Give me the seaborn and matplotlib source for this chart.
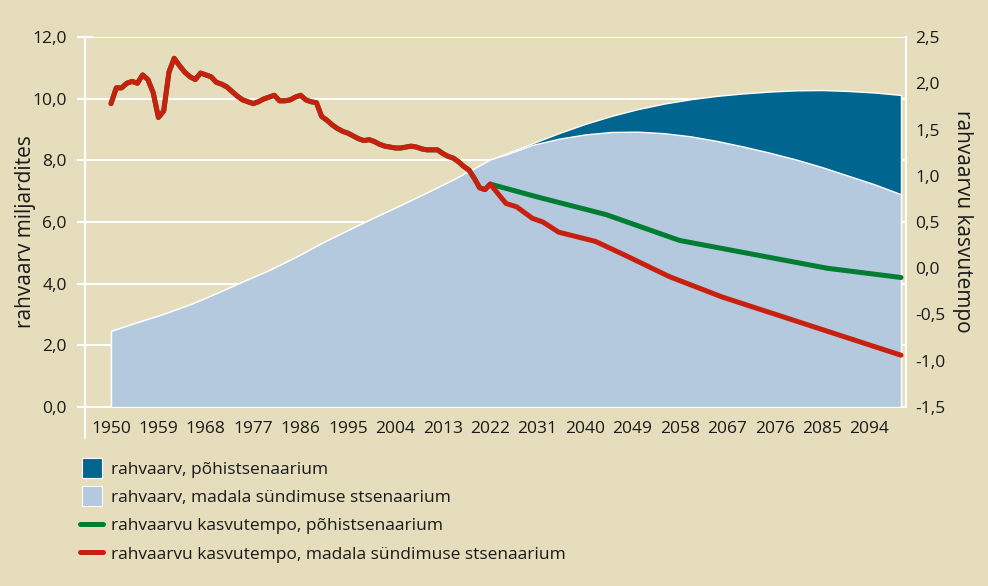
import matplotlib
matplotlib.use("Agg")
import matplotlib.pyplot as plt
import seaborn as sns
import numpy as np
import pandas as pd
from matplotlib.lines import Line2D

# ---------------- data ----------------
hist_years = list(range(1950, 2023))
growth_hist = [1.78, 1.95, 1.95, 2.00, 2.02, 2.00, 2.09, 2.04, 1.90, 1.63,
               1.70, 2.12, 2.27, 2.19, 2.12, 2.07, 2.04, 2.11, 2.09, 2.07,
               2.01, 1.99, 1.96, 1.91, 1.86, 1.82, 1.80, 1.78, 1.80, 1.83,
               1.85, 1.87, 1.81, 1.81, 1.82, 1.85, 1.87, 1.82, 1.80, 1.79,
               1.64, 1.60, 1.55, 1.51, 1.48, 1.46, 1.43, 1.40, 1.38, 1.39,
               1.37, 1.34, 1.32, 1.31, 1.30, 1.30, 1.31, 1.32, 1.31, 1.29,
               1.28, 1.28, 1.28, 1.24, 1.21, 1.19, 1.15, 1.10, 1.06, 0.97,
               0.87, 0.85, 0.91]

base_growth_years = [2022, 2031, 2044, 2058, 2086, 2100]
base_growth = [0.91, 0.77, 0.58, 0.30, 0.00, -0.10]

low_growth_years = [2022, 2025, 2027, 2030, 2032, 2035, 2042, 2048, 2056, 2066, 2100]
low_growth = [0.91, 0.70, 0.665, 0.54, 0.50, 0.39, 0.29, 0.13, -0.09, -0.31, -0.94]

pop_hist_years = [1950, 1955, 1960, 1965, 1970, 1975, 1980, 1985, 1990, 1995,
                  2000, 2005, 2010, 2015, 2020, 2022]
pop_hist = [2.47, 2.75, 3.02, 3.33, 3.69, 4.07, 4.44, 4.86, 5.32, 5.74,
            6.15, 6.55, 6.96, 7.38, 7.84, 8.03]

proj_years = [2025, 2030, 2035, 2040, 2045, 2050, 2055, 2060, 2065, 2070,
              2075, 2080, 2085, 2090, 2095, 2100]
pop_base = [8.22, 8.55, 8.88, 9.18, 9.44, 9.66, 9.84, 9.98, 10.09, 10.17,
            10.23, 10.27, 10.28, 10.25, 10.20, 10.12]
pop_low = [8.19, 8.50, 8.70, 8.84, 8.92, 8.93, 8.88, 8.78, 8.63, 8.45,
           8.25, 8.03, 7.78, 7.50, 7.22, 6.90]

xtick_years = list(range(1950, 2095, 9))
left_ticks = [0, 2, 4, 6, 8, 10, 12]
right_ticks = [-1.5, -1.0, -0.5, 0.0, 0.5, 1.0, 1.5, 2.0, 2.5]

labels = ["rahvaarv, põhistsenaarium",
          "rahvaarv, madala sündimuse stsenaarium",
          "rahvaarvu kasvutempo, põhistsenaarium",
          "rahvaarvu kasvutempo, madala sündimuse stsenaarium"]

# ---------------- style ----------------
BG = "#e5ddbb"
DARK = "#006690"
LIGHT = "#b4c9dd"
GREEN = "#007d32"
RED = "#c8200e"
TXT = "#1a1a1a"

sns.set_theme(style="white")
plt.rcParams["font.family"] = ["Open Sans", "DejaVu Sans"]
FS = 12.5
FS_TITLE = 15

fig = plt.figure(figsize=(9.88, 5.86), dpi=100, facecolor=BG)
ax = fig.add_axes([85 / 988, 1 - 407 / 586, 821 / 988, 370 / 586])
ax.set_facecolor(BG)

pop_years_all = pop_hist_years + proj_years
base_all = pop_hist + pop_base
low_all = pop_hist + pop_low

ax.fill_between(pop_years_all, base_all, 0, facecolor=DARK, edgecolor="white",
                linewidth=1.0, zorder=2)
ax.fill_between(pop_years_all, low_all, 0, facecolor=LIGHT, edgecolor="white",
                linewidth=1.0, zorder=3)

ax.set_xlim(1945.06, 2100.95)
ax.set_ylim(0, 12)
ax.set_yticks(left_ticks)
ax.set_yticklabels([f"{v:.1f}".replace(".", ",") for v in left_ticks],
                   fontsize=FS, color=TXT)
ax.set_xticks(xtick_years)
ax.set_xticklabels([str(y) for y in xtick_years], fontsize=FS, color=TXT)
ax.grid(axis="y", color="white", linewidth=1.5, zorder=0)
ax.grid(axis="x", visible=False)
ax.set_axisbelow(True)
ax.yaxis.set_ticks_position("both")
ax.tick_params(axis="y", which="major", direction="inout", length=12, width=1.5,
               color="white", pad=7, labelright=False)
ax.tick_params(axis="x", length=0, pad=10)
for s in ["left", "right", "bottom"]:
    ax.spines[s].set_visible(True)
    ax.spines[s].set_color("white")
    ax.spines[s].set_linewidth(1.5)
ax.spines["top"].set_visible(False)
ax.plot([0, 0], [-0.085, 0], transform=ax.transAxes, color="white", lw=1.5,
        clip_on=False)

ax2 = ax.twinx()
ax2.set_ylim(-1.5, 2.5)
ax2.set_yticks(right_ticks)
ax2.set_yticklabels([f"{v:.1f}".replace(".", ",") for v in right_ticks],
                    fontsize=FS, color=TXT)
ax2.tick_params(axis="y", length=0, pad=6.5)
for s in ax2.spines.values():
    s.set_visible(False)
ax2.grid(False)

green_x = hist_years + base_growth_years[1:]
green_y = growth_hist + base_growth[1:]
red_x = hist_years + low_growth_years[1:]
red_y = growth_hist + low_growth[1:]

sns.lineplot(x=green_x, y=green_y, ax=ax2, color=GREEN, linewidth=3.6,
             sort=False, solid_capstyle="round", solid_joinstyle="round")
sns.lineplot(x=red_x, y=red_y, ax=ax2, color=RED, linewidth=3.6,
             sort=False, solid_capstyle="round", solid_joinstyle="round")
ax2.set_xlim(1945.06, 2100.95)
ax2.set_ylabel("")
ax2.set_xlabel("")

fig.text(26 / 988, 1 - 232 / 586, "rahvaarv miljardites", rotation=90,
         ha="center", va="center", fontsize=FS_TITLE, color=TXT)
fig.text(962 / 988, 1 - 221 / 586, "rahvaarvu kasvutempo", rotation=270,
         ha="center", va="center", fontsize=FS_TITLE, color=TXT)

handles = [
    Line2D([], [], marker="s", ls="none", markersize=14, markerfacecolor=DARK,
           markeredgecolor="white", markeredgewidth=0.8),
    Line2D([], [], marker="s", ls="none", markersize=14, markerfacecolor=LIGHT,
           markeredgecolor="white", markeredgewidth=0.8),
    Line2D([], [], color=GREEN, lw=3.6, solid_capstyle="round"),
    Line2D([], [], color=RED, lw=3.6, solid_capstyle="round"),
]
leg = fig.legend(handles, labels, loc="upper left",
                 bbox_to_anchor=(80 / 988, 1 - 462 / 586), frameon=False,
                 fontsize=FS, handlelength=1.35, handletextpad=0.45,
                 labelspacing=0.69, borderpad=0, borderaxespad=0)
for t in leg.get_texts():
    t.set_color(TXT)

fig.savefig("out.png", dpi=100, facecolor=BG)
